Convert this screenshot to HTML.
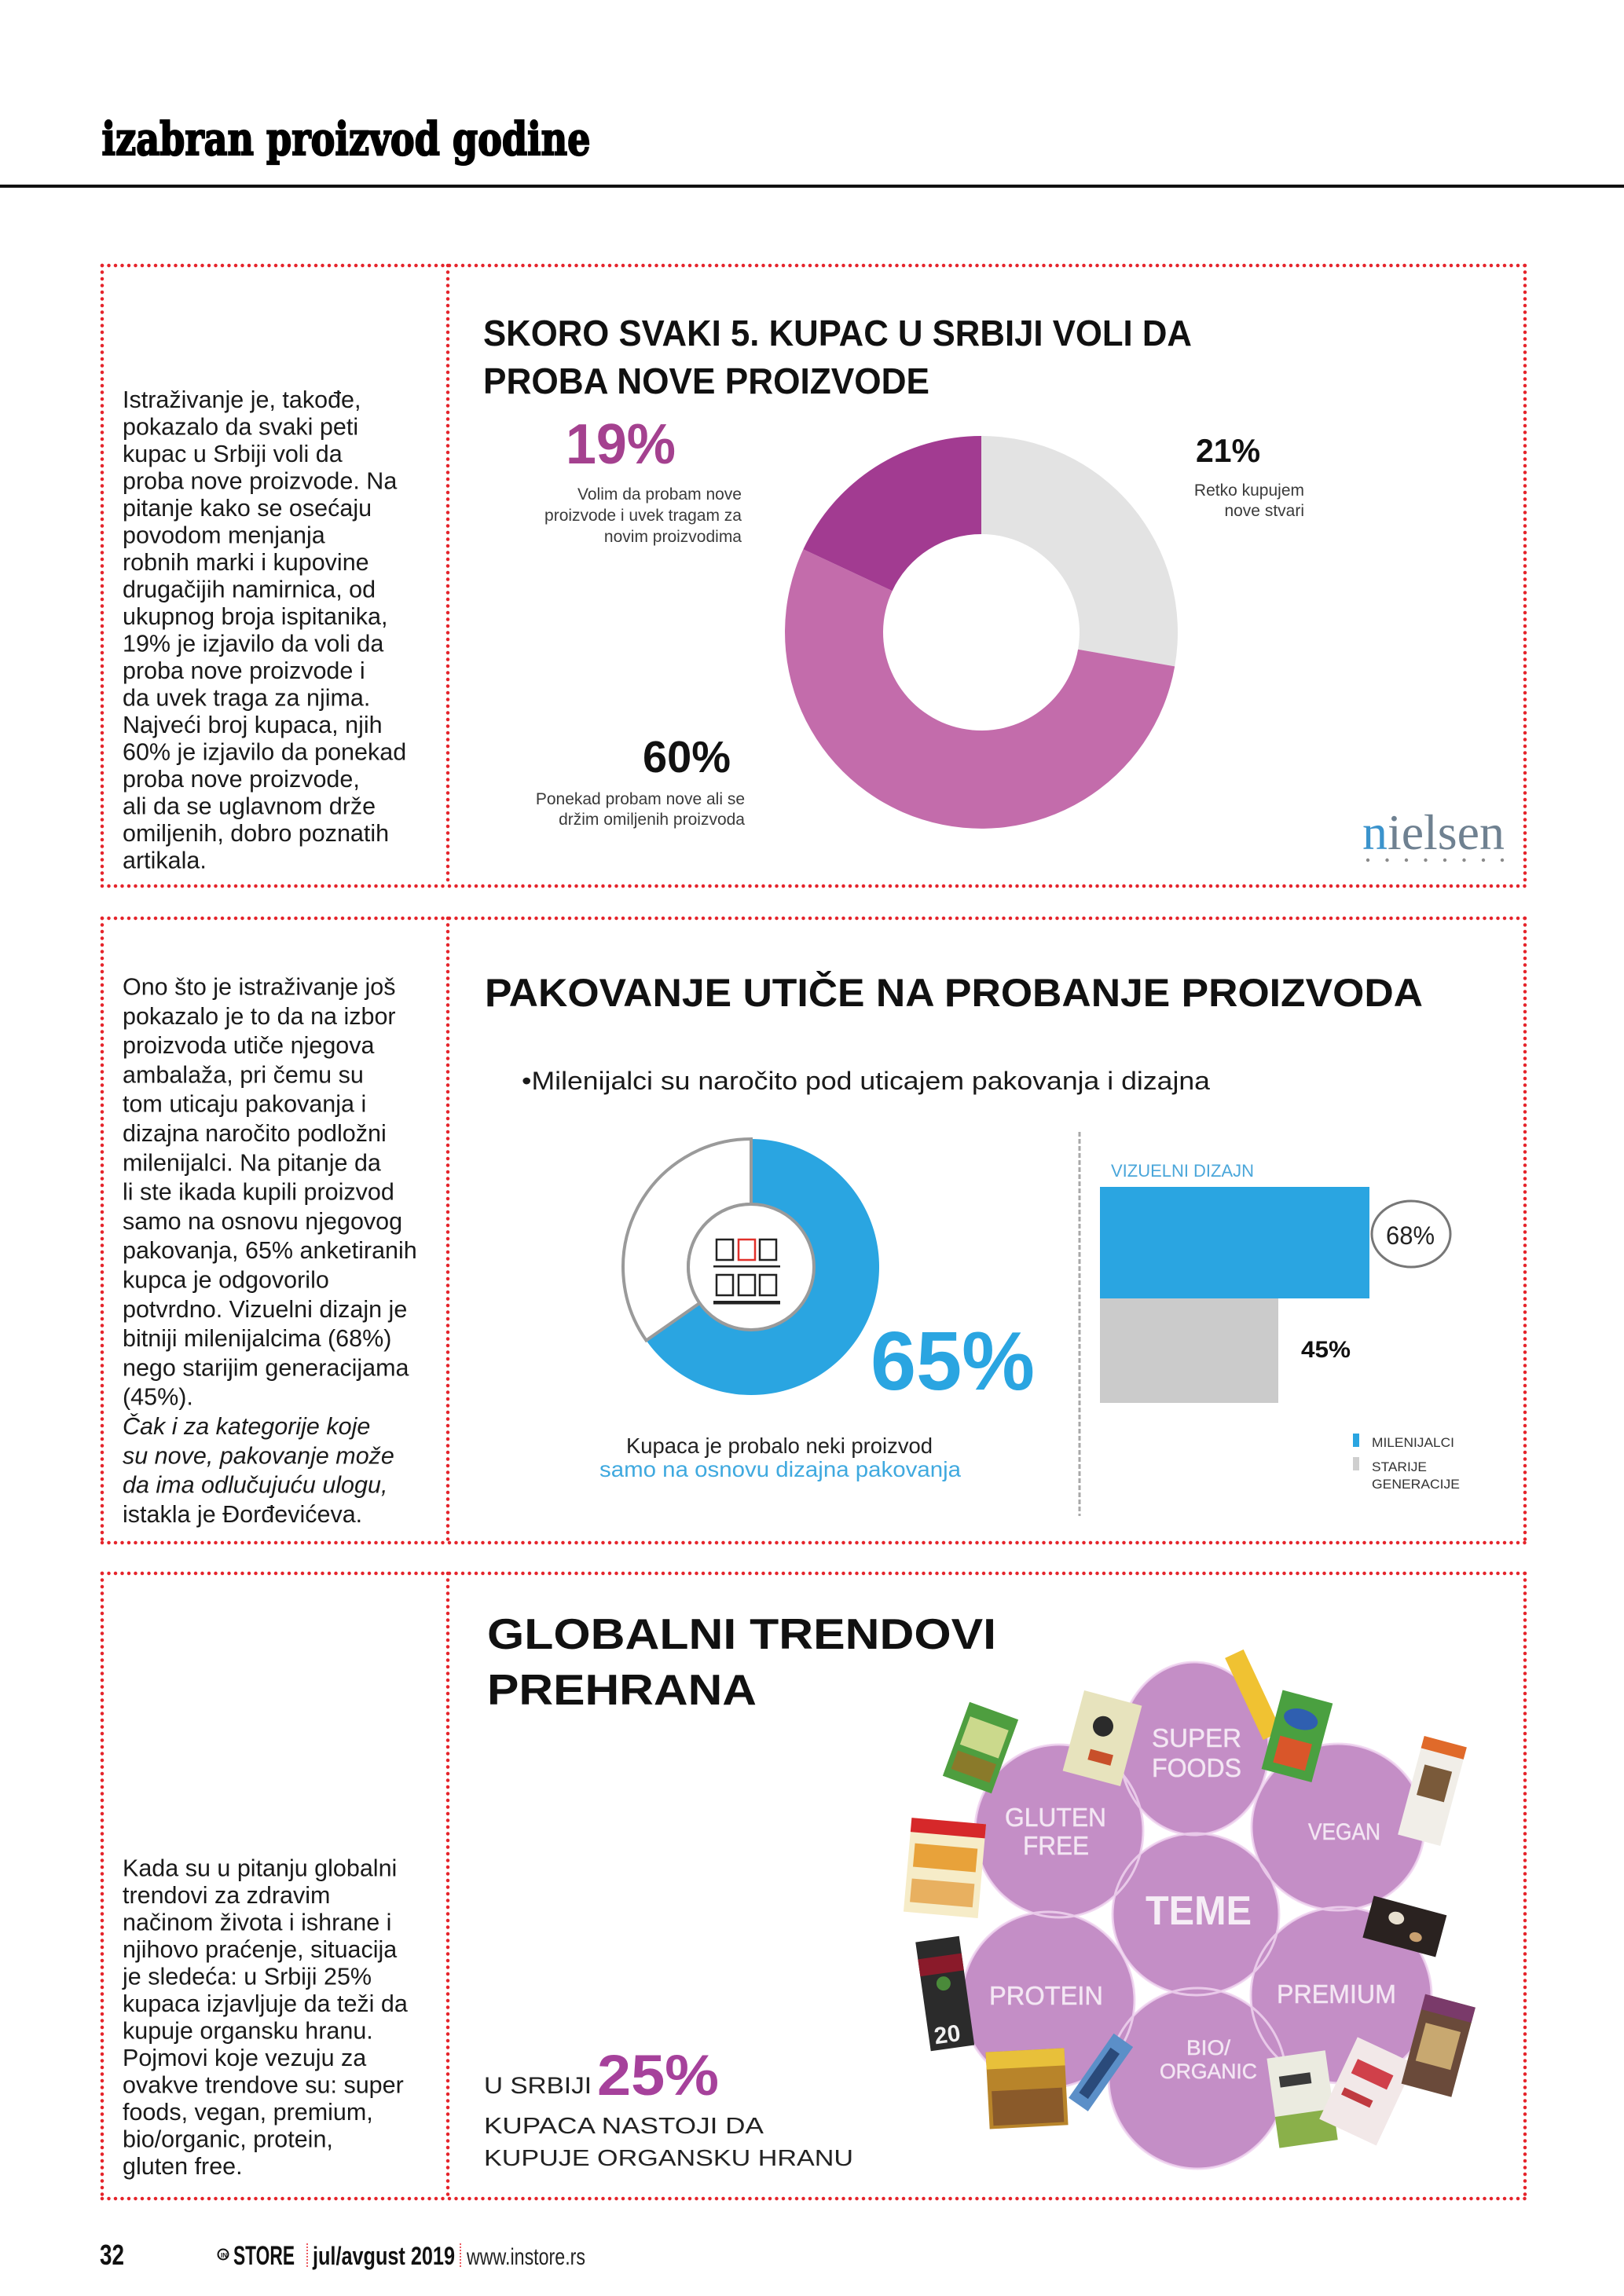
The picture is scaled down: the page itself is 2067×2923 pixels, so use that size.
<!DOCTYPE html>
<html>
<head>
<meta charset="utf-8">
<style>
html,body{margin:0;padding:0;background:#fff;}
svg{display:block;}
.body{font-family:"Liberation Sans",sans-serif;font-size:30.5px;fill:#1a1a1a;}
.lbl{font-family:"Liberation Sans",sans-serif;font-size:21px;fill:#3a3a3a;}
.b{font-family:"Liberation Sans",sans-serif;font-weight:bold;}
.r{font-family:"Liberation Sans",sans-serif;}
.circ{font-family:"Liberation Sans",sans-serif;font-size:33px;fill:#f4e8f4;stroke:#efdcef;stroke-width:0.6;}
</style>
</head>
<body>
<svg width="2067" height="2923" viewBox="0 0 2067 2923" xmlns="http://www.w3.org/2000/svg">
<rect x="0" y="0" width="2067" height="2923" fill="#fff"/>

<!-- Header -->
<text x="129.5" y="197" font-family="'DejaVu Serif','Liberation Serif',serif" font-weight="bold" font-size="58" textLength="622" lengthAdjust="spacingAndGlyphs" fill="#000" stroke="#000" stroke-width="2.2">izabran proizvod godine</text>
<rect x="0" y="235" width="2067" height="4" fill="#111"/>

<!-- Dotted boxes -->
<g stroke="#e5242b" stroke-width="4.5" stroke-linecap="round" stroke-dasharray="0 8.5" fill="none">
  <line x1="130" y1="338" x2="1941" y2="338"/>
  <line x1="130" y1="1128" x2="1941" y2="1128"/>
  <line x1="130" y1="338" x2="130" y2="1128"/>
  <line x1="1941" y1="338" x2="1941" y2="1128"/>
  <line x1="570" y1="338" x2="570" y2="1128"/>

  <line x1="130" y1="1169" x2="1941" y2="1169"/>
  <line x1="130" y1="1964" x2="1941" y2="1964"/>
  <line x1="130" y1="1169" x2="130" y2="1964"/>
  <line x1="1941" y1="1169" x2="1941" y2="1964"/>
  <line x1="570" y1="1169" x2="570" y2="1964"/>

  <line x1="130" y1="2003" x2="1941" y2="2003"/>
  <line x1="130" y1="2799" x2="1941" y2="2799"/>
  <line x1="130" y1="2003" x2="130" y2="2799"/>
  <line x1="1941" y1="2003" x2="1941" y2="2799"/>
  <line x1="570" y1="2003" x2="570" y2="2799"/>
</g>

<!-- Box 1 text -->
<g class="body">
<text x="156" y="518.8">Istraživanje je, takođe,</text>
<text x="156" y="553.3">pokazalo da svaki peti</text>
<text x="156" y="587.8">kupac u Srbiji voli da</text>
<text x="156" y="622.3">proba nove proizvode. Na</text>
<text x="156" y="656.8">pitanje kako se osećaju</text>
<text x="156" y="691.3">povodom menjanja</text>
<text x="156" y="725.8">robnih marki i kupovine</text>
<text x="156" y="760.3">drugačijih namirnica, od</text>
<text x="156" y="794.8">ukupnog broja ispitanika,</text>
<text x="156" y="829.3">19% je izjavilo da voli da</text>
<text x="156" y="863.8">proba nove proizvode i</text>
<text x="156" y="898.3">da uvek traga za njima.</text>
<text x="156" y="932.8">Najveći broj kupaca, njih</text>
<text x="156" y="967.3">60% je izjavilo da ponekad</text>
<text x="156" y="1001.8">proba nove proizvode,</text>
<text x="156" y="1036.3">ali da se uglavnom drže</text>
<text x="156" y="1070.8">omiljenih, dobro poznatih</text>
<text x="156" y="1105.3">artikala.</text>
</g>

<!-- Box 1 chart -->
<text class="b" x="615" y="440" font-size="46" textLength="902" lengthAdjust="spacingAndGlyphs" fill="#111">SKORO SVAKI 5. KUPAC U SRBIJI VOLI DA</text>
<text class="b" x="615" y="501" font-size="46" textLength="568" lengthAdjust="spacingAndGlyphs" fill="#111">PROBA NOVE PROIZVODE</text>

<path d="M1249,555 A250,250 0 0 1 1495.2,848.4 L1372.1,826.7 A125,125 0 0 0 1249,680 Z" fill="#e3e3e3"/>
<path d="M1495.2,848.4 A250,250 0 1 1 1022.4,699.3 L1135.7,752.2 A125,125 0 1 0 1372.1,826.7 Z" fill="#c36cab"/>
<path d="M1022.4,699.3 A250,250 0 0 1 1249,555 L1249,680 A125,125 0 0 0 1135.7,752.2 Z" fill="#a23b91"/>

<text class="b" x="720" y="590" font-size="72" textLength="140" lengthAdjust="spacingAndGlyphs" fill="#a4418f">19%</text>
<g class="lbl" text-anchor="end">
<text x="944" y="636">Volim da probam nove</text>
<text x="944" y="663">proizvode i uvek tragam za</text>
<text x="944" y="690">novim proizvodima</text>
<text x="948" y="1024">Ponekad probam nove ali se</text>
<text x="948" y="1050">držim omiljenih proizvoda</text>
<text x="1660" y="631">Retko kupujem</text>
<text x="1660" y="657">nove stvari</text>
</g>
<text class="b" x="818" y="983" font-size="57" textLength="112" lengthAdjust="spacingAndGlyphs" fill="#111">60%</text>
<text class="b" x="1522" y="588" font-size="42" textLength="82" lengthAdjust="spacingAndGlyphs" fill="#111">21%</text>

<text x="1734" y="1081" font-family="'Liberation Serif',serif" font-size="64" textLength="181" lengthAdjust="spacingAndGlyphs" fill="#6f8191"><tspan fill="#3b93cc">n</tspan>ielsen</text>
<g fill="#8a8a8a">
<circle cx="1741" cy="1095" r="2.2"/><circle cx="1765.5" cy="1095" r="2.2"/><circle cx="1790" cy="1095" r="2.2"/><circle cx="1814.5" cy="1095" r="2.2"/>
<circle cx="1839" cy="1095" r="2.2"/><circle cx="1863.5" cy="1095" r="2.2"/><circle cx="1888" cy="1095" r="2.2"/><circle cx="1912" cy="1095" r="2.2"/>
</g>

<!-- Box 2 text -->
<g class="body">
<text x="156" y="1266.5">Ono što je istraživanje još</text>
<text x="156" y="1303.8">pokazalo je to da na izbor</text>
<text x="156" y="1341.1">proizvoda utiče njegova</text>
<text x="156" y="1378.4">ambalaža, pri čemu su</text>
<text x="156" y="1415.7">tom uticaju pakovanja i</text>
<text x="156" y="1453.0">dizajna naročito podložni</text>
<text x="156" y="1490.3">milenijalci. Na pitanje da</text>
<text x="156" y="1527.6">li ste ikada kupili proizvod</text>
<text x="156" y="1564.9">samo na osnovu njegovog</text>
<text x="156" y="1602.2">pakovanja, 65% anketiranih</text>
<text x="156" y="1639.5">kupca je odgovorilo</text>
<text x="156" y="1676.8">potvrdno. Vizuelni dizajn je</text>
<text x="156" y="1714.1">bitniji milenijalcima (68%)</text>
<text x="156" y="1751.4">nego starijim generacijama</text>
<text x="156" y="1788.7">(45%).</text>
<text x="156" y="1826.0" font-style="italic">Čak i za kategorije koje</text>
<text x="156" y="1863.3" font-style="italic">su nove, pakovanje može</text>
<text x="156" y="1900.6" font-style="italic">da ima odlučujuću ulogu,</text>
<text x="156" y="1937.9">istakla je Đorđevićeva.</text>
</g>

<!-- Box 2 chart -->
<text class="b" x="617" y="1281" font-size="50" textLength="1194" lengthAdjust="spacingAndGlyphs" fill="#111">PAKOVANJE UTIČE NA PROBANJE PROIZVODA</text>
<text class="r" x="664" y="1387" font-size="32" textLength="876" lengthAdjust="spacingAndGlyphs" fill="#1a1a1a">•Milenijalci su naročito pod uticajem pakovanja i dizajna</text>

<path d="M956,1450 A163,163 0 1 1 822.5,1706.5 L890.5,1658.9 A80,80 0 1 0 956,1533 Z" fill="#2aa5e1"/>
<path d="M822.5,1706.5 A163,163 0 0 1 956,1450 L956,1533 A80,80 0 0 0 890.5,1658.9 Z" fill="#fff" stroke="#9a9a9a" stroke-width="4"/>
<circle cx="956" cy="1613" r="80" fill="#fff" stroke="#9a9a9a" stroke-width="4"/>
<g fill="none" stroke="#222" stroke-width="2.5">
<rect x="912" y="1578" width="21" height="26"/>
<rect x="940" y="1578" width="21" height="26" stroke="#e0302a"/>
<rect x="967" y="1578" width="21" height="26"/>
<rect x="912" y="1623" width="21" height="26"/>
<rect x="940" y="1623" width="21" height="26"/>
<rect x="967" y="1623" width="21" height="26"/>
</g>
<rect x="908" y="1611" width="85" height="2.5" fill="#222"/>
<rect x="908" y="1656" width="85" height="4.5" fill="#222"/>

<text class="b" x="1108" y="1769" font-size="106" textLength="209" lengthAdjust="spacingAndGlyphs" fill="#2aa5e1">65%</text>
<text class="r" x="797" y="1850" font-size="28" textLength="390" lengthAdjust="spacingAndGlyphs" fill="#222">Kupaca je probalo neki proizvod</text>
<text class="r" x="763" y="1880" font-size="28" textLength="460" lengthAdjust="spacingAndGlyphs" fill="#3fa9df">samo na osnovu dizajna pakovanja</text>

<line x1="1374" y1="1441" x2="1374" y2="1930" stroke="#a8a8a8" stroke-width="3" stroke-dasharray="6 3"/>
<text class="r" x="1414" y="1498" font-size="22" textLength="182" lengthAdjust="spacingAndGlyphs" fill="#4aa6da">VIZUELNI DIZAJN</text>
<rect x="1400" y="1511" width="343" height="142" fill="#2aa5e1"/>
<rect x="1400" y="1653" width="227" height="133" fill="#cbcbcb"/>
<ellipse cx="1796" cy="1571" rx="50" ry="42" fill="none" stroke="#777" stroke-width="3"/>
<text class="r" x="1764" y="1584" font-size="32" textLength="62" lengthAdjust="spacingAndGlyphs" fill="#222">68%</text>
<text class="b" x="1656" y="1728" font-size="30" textLength="63" lengthAdjust="spacingAndGlyphs" fill="#111">45%</text>
<rect x="1722" y="1825" width="8" height="17" fill="#2aa5e1"/>
<rect x="1722" y="1855" width="8" height="17" fill="#cfcfcf"/>
<text class="r" x="1746" y="1842" font-size="17" textLength="105" lengthAdjust="spacingAndGlyphs" fill="#333">MILENIJALCI</text>
<text class="r" x="1746" y="1873" font-size="17" textLength="70" lengthAdjust="spacingAndGlyphs" fill="#333">STARIJE</text>
<text class="r" x="1746" y="1895" font-size="17" textLength="112" lengthAdjust="spacingAndGlyphs" fill="#333">GENERACIJE</text>

<!-- Box 3 text -->
<g class="body">
<text x="156" y="2388.5">Kada su u pitanju globalni</text>
<text x="156" y="2423.0">trendovi za zdravim</text>
<text x="156" y="2457.5">načinom života i ishrane i</text>
<text x="156" y="2492.0">njihovo praćenje, situacija</text>
<text x="156" y="2526.5">je sledeća: u Srbiji 25%</text>
<text x="156" y="2561.0">kupaca izjavljuje da teži da</text>
<text x="156" y="2595.5">kupuje organsku hranu.</text>
<text x="156" y="2630.0">Pojmovi koje vezuju za</text>
<text x="156" y="2664.5">ovakve trendove su: super</text>
<text x="156" y="2699.0">foods, vegan, premium,</text>
<text x="156" y="2733.5">bio/organic, protein,</text>
<text x="156" y="2768.0">gluten free.</text>
</g>

<!-- Box 3 chart -->
<text class="b" x="620" y="2099" font-size="55" textLength="648" lengthAdjust="spacingAndGlyphs" fill="#111">GLOBALNI TRENDOVI</text>
<text class="b" x="620" y="2170" font-size="55" textLength="343" lengthAdjust="spacingAndGlyphs" fill="#111">PREHRANA</text>

<text class="r" x="616" y="2665" font-size="30" textLength="137" lengthAdjust="spacingAndGlyphs" fill="#222">U SRBIJI</text>
<text class="b" x="760" y="2667" font-size="73" textLength="155" lengthAdjust="spacingAndGlyphs" fill="#a6419b">25%</text>
<text class="r" x="616" y="2716" font-size="29" textLength="356" lengthAdjust="spacingAndGlyphs" fill="#222">KUPACA  NASTOJI DA</text>
<text class="r" x="616" y="2757" font-size="29" textLength="470" lengthAdjust="spacingAndGlyphs" fill="#222">KUPUJE ORGANSKU HRANU</text>

<!-- circles -->
<g fill="#c48ec6">
<ellipse cx="1520" cy="2226" rx="95" ry="110"/>
<ellipse cx="1348" cy="2331" rx="107" ry="110"/>
<ellipse cx="1703" cy="2326" rx="110" ry="106"/>
<ellipse cx="1334" cy="2546" rx="110" ry="112"/>
<ellipse cx="1707" cy="2540" rx="115" ry="112"/>
<ellipse cx="1524" cy="2646" rx="113" ry="115"/>
<ellipse cx="1522" cy="2437" rx="106" ry="103"/>
</g>
<g fill="none" stroke="#f0d4f0" stroke-width="3" opacity="0.85">
<ellipse cx="1520" cy="2226" rx="95" ry="110"/>
<ellipse cx="1348" cy="2331" rx="107" ry="110"/>
<ellipse cx="1703" cy="2326" rx="110" ry="106"/>
<ellipse cx="1334" cy="2546" rx="110" ry="112"/>
<ellipse cx="1707" cy="2540" rx="115" ry="112"/>
<ellipse cx="1524" cy="2646" rx="113" ry="115"/>
<ellipse cx="1522" cy="2437" rx="106" ry="103"/>
</g>

<g class="circ">
<text x="1466" y="2224" textLength="114" lengthAdjust="spacingAndGlyphs">SUPER</text>
<text x="1466" y="2262" textLength="114" lengthAdjust="spacingAndGlyphs">FOODS</text>
<text x="1279" y="2325" textLength="129" lengthAdjust="spacingAndGlyphs">GLUTEN</text>
<text x="1302" y="2361" textLength="84" lengthAdjust="spacingAndGlyphs">FREE</text>
<text x="1665" y="2342" font-size="30" textLength="92" lengthAdjust="spacingAndGlyphs">VEGAN</text>
<text x="1259" y="2552" textLength="145" lengthAdjust="spacingAndGlyphs">PROTEIN</text>
<text x="1625" y="2550" textLength="152" lengthAdjust="spacingAndGlyphs">PREMIUM</text>
<text x="1510" y="2616" font-size="27" textLength="56" lengthAdjust="spacingAndGlyphs">BIO/</text>
<text x="1476" y="2646" font-size="27" textLength="124" lengthAdjust="spacingAndGlyphs">ORGANIC</text>
</g>
<text class="b" x="1458" y="2450" font-size="52" textLength="135" lengthAdjust="spacingAndGlyphs" fill="#f6eef6">TEME</text>

<!-- product packs (approximate) -->
<g transform="rotate(20 1248 2225)">
  <rect x="1215" y="2175" width="66" height="100" fill="#4e9e3f"/>
  <rect x="1222" y="2192" width="52" height="38" fill="#cbd98c"/>
  <rect x="1222" y="2238" width="52" height="25" fill="#8a7a2a"/>
</g>
<g transform="rotate(15 1403 2213)">
  <rect x="1365" y="2160" width="76" height="106" fill="#e7e3bd"/>
  <circle cx="1400" cy="2198" r="13" fill="#2b2b2b"/>
  <rect x="1392" y="2230" width="30" height="14" fill="#c8502a"/>
</g>
<g transform="rotate(-25 1595 2157)">
  <rect x="1582" y="2100" width="26" height="115" fill="#f0c232"/>
</g>
<g transform="rotate(15 1650 2210)">
  <rect x="1618" y="2158" width="66" height="104" fill="#4aa040"/>
  <ellipse cx="1650" cy="2188" rx="22" ry="13" fill="#2f5fb0"/>
  <rect x="1630" y="2215" width="42" height="35" fill="#d9562a"/>
</g>
<g transform="rotate(15 1823 2280)">
  <rect x="1795" y="2215" width="56" height="130" fill="#f1eee8"/>
  <rect x="1795" y="2215" width="56" height="16" fill="#e06a2a"/>
  <rect x="1805" y="2250" width="36" height="40" fill="#7a5a3a"/>
</g>
<g transform="rotate(5 1202 2378)">
  <rect x="1155" y="2318" width="95" height="120" fill="#f6ecc8"/>
  <rect x="1155" y="2318" width="95" height="18" fill="#d6282a"/>
  <rect x="1162" y="2350" width="80" height="30" fill="#e8a23a"/>
  <rect x="1162" y="2395" width="80" height="30" fill="#e8b060"/>
</g>
<g transform="rotate(15 1788 2452)">
  <rect x="1740" y="2425" width="96" height="55" fill="#2a2220"/>
  <ellipse cx="1775" cy="2445" rx="10" ry="8" fill="#e8e0d0"/>
  <ellipse cx="1805" cy="2462" rx="8" ry="6" fill="#c8a070"/>
</g>
<g transform="rotate(-8 1203 2540)">
  <rect x="1175" y="2468" width="56" height="140" fill="#2b2b2b"/>
  <rect x="1175" y="2490" width="56" height="22" fill="#8a1a2a"/>
  <circle cx="1203" cy="2525" r="9" fill="#4a8a3a"/>
  <text x="1182" y="2600" class="b" font-size="30" fill="#f0f0f0">20</text>
</g>
<g transform="rotate(-3 1306 2658)">
  <rect x="1257" y="2610" width="100" height="98" fill="#b8842a"/>
  <rect x="1257" y="2610" width="100" height="22" fill="#e8c03a"/>
  <rect x="1262" y="2660" width="90" height="44" fill="#8a5a2a"/>
</g>
<g transform="rotate(-55 1400 2640)">
  <rect x="1352" y="2625" width="100" height="30" fill="#5b8fc8"/>
  <rect x="1365" y="2632" width="70" height="14" fill="#2a4a7a"/>
</g>
<g transform="rotate(-8 1657 2672)">
  <rect x="1620" y="2615" width="75" height="115" fill="#ebebe0"/>
  <rect x="1620" y="2690" width="75" height="40" fill="#8ab04a"/>
  <rect x="1632" y="2640" width="40" height="14" fill="#3a3a3a"/>
</g>
<g transform="rotate(25 1740 2662)">
  <rect x="1700" y="2605" width="80" height="115" fill="#f2e8e8"/>
  <rect x="1712" y="2630" width="50" height="20" fill="#d0404a"/>
  <rect x="1712" y="2670" width="40" height="10" fill="#c03a40"/>
</g>
<g transform="rotate(15 1830 2603)">
  <rect x="1798" y="2545" width="66" height="118" fill="#6a4a3a"/>
  <rect x="1798" y="2545" width="66" height="20" fill="#7a3a6a"/>
  <rect x="1808" y="2580" width="46" height="50" fill="#c8a870"/>
</g>

<!-- Footer -->
<text class="b" x="127" y="2883" font-size="36" textLength="31" lengthAdjust="spacingAndGlyphs" fill="#111">32</text>
<circle cx="284" cy="2870" r="6.5" fill="none" stroke="#111" stroke-width="2"/>
<text class="b" x="281" y="2874" font-size="8" fill="#111">IN</text>
<text class="b" x="297" y="2883" font-size="34" textLength="78" lengthAdjust="spacingAndGlyphs" fill="#111">STORE</text>
<line x1="391" y1="2856" x2="391" y2="2886" stroke="#e5242b" stroke-width="1.5" stroke-dasharray="2 2"/>
<text class="b" x="398" y="2883" font-size="32" textLength="181" lengthAdjust="spacingAndGlyphs" fill="#111">jul/avgust 2019</text>
<line x1="586" y1="2856" x2="586" y2="2886" stroke="#e5242b" stroke-width="1.5" stroke-dasharray="2 2"/>
<text class="r" x="594" y="2883" font-size="30" textLength="151" lengthAdjust="spacingAndGlyphs" fill="#222">www.instore.rs</text>
</svg>
</body>
</html>
